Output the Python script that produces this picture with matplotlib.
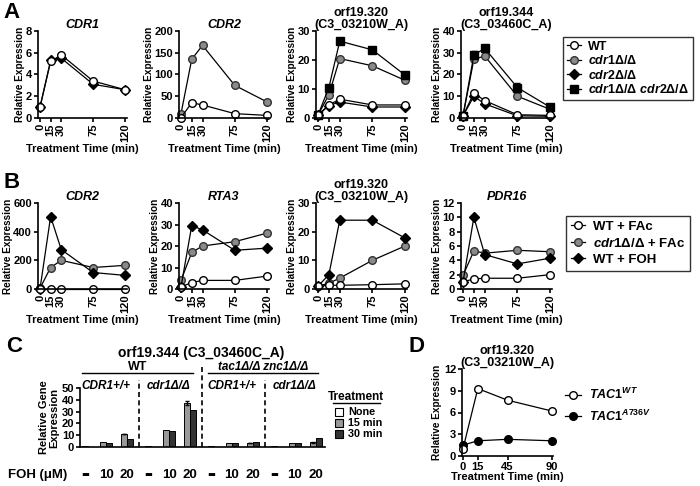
import numpy as np
import matplotlib
matplotlib.use('Agg')
import matplotlib.pyplot as plt
from matplotlib.lines import Line2D
from matplotlib.patches import Rectangle

plt.rcParams['font.family'] = ['Liberation Sans', 'DejaVu Sans']
plt.rcParams['font.weight'] = 'bold'
plt.rcParams['axes.labelweight'] = 'bold'
plt.rcParams['axes.titleweight'] = 'bold'
plt.rcParams['mathtext.fontset'] = 'custom'
plt.rcParams['mathtext.it'] = 'Liberation Sans:italic:bold'
plt.rcParams['mathtext.rm'] = 'Liberation Sans:bold'
plt.rcParams['mathtext.bf'] = 'Liberation Sans:bold'
plt.rcParams['axes.linewidth'] = 1.2

W, H = 700, 486

# ------------------------------------------
# Data
# ------------------------------------------
time_ab = [0, 15, 30, 75, 120]
time_d = [0, 15, 45, 90]

# Panel A
a_cdr1_wt = [1.0, 5.2, 5.8, 3.4, 2.6]
a_cdr1_cdr2 = [1.0, 5.3, 5.5, 3.1, 2.6]
a_cdr2_wt = [1, 35, 30, 10, 6]
a_cdr2_cdr1 = [10, 135, 167, 75, 37]
a_320_wt = [1, 4.5, 6.5, 4.5, 4.5]
a_320_cdr1 = [1, 8, 20.5, 18, 13]
a_320_cdr2 = [1, 4.3, 5.5, 3.8, 3.8]
a_320_dbl = [1, 10.5, 26.5, 23.5, 14.8]
a_344_wt = [1, 11.5, 8, 1.5, 1.2]
a_344_cdr1 = [1, 27, 28.5, 10, 4]
a_344_cdr2 = [1, 10, 6.5, 1, 0.8]
a_344_dbl = [1, 29, 32, 14, 5]
a_344_dbl_err = [0, 2, 1, 2, 0.5]

# Panel B
b_cdr2_wt = [1, 1, 1, 1, 1]
b_cdr2_cdr1 = [5, 150, 200, 150, 165]
b_cdr2_foh = [1, 505, 275, 115, 95]
b_rta3_wt = [1, 3, 4, 4, 6]
b_rta3_cdr1 = [4, 17, 20, 22, 26]
b_rta3_foh = [1, 29.5, 27.5, 18, 19]
b_320_wt = [1, 1.3, 1.3, 1.5, 1.8]
b_320_cdr1 = [1, 2, 3.8, 10, 15]
b_320_foh = [1, 5, 24, 24, 17.8]
b_pdr16_wt = [1, 1.4, 1.5, 1.5, 2]
b_pdr16_cdr1 = [1.9, 5.3, 5.0, 5.4, 5.2]
b_pdr16_foh = [1, 10, 4.8, 3.5, 4.3]

# Panel C (groups: WT CDR1+/+, WT cdr1, tac1 znc1 CDR1+/+, tac1 znc1 cdr1)
c_none = [1.0, 1.2, 0.8, 0.9]
c_10_15 = [4.5, 14.5, 3.0, 3.5]
c_10_30 = [3.5, 13.3, 3.0, 3.8]
c_20_15 = [11.0, 37.5, 3.5, 4.0]
c_20_30 = [7.0, 31.5, 4.0, 8.0]
c_20_15_err = [0.3, 1.5, 0.3, 0.3]
c_foh_labels = ['▬', '10', '20']
c_sub_labels = ['CDR1+/+', 'cdr1Δ/Δ', 'CDR1+/+', 'cdr1Δ/Δ']

# Panel D
d_wt = [1.0, 9.3, 7.7, 6.2]
d_mut = [1.5, 2.1, 2.3, 2.1]

GRAY = '#8a8a8a'
st_wt = dict(marker='o', mfc='white', mec='black', color='black')
st_cdr1 = dict(marker='o', mfc=GRAY, mec='#333333', color='black')
st_cdr2 = dict(marker='D', mfc='black', mec='black', color='black', ms=5)
st_dbl = dict(marker='s', mfc='black', mec='black', color='black')

TICK_FS = 8
LAB_FS = 7.2
XLAB_FS = 8
TITLE_FS = 9

fig = plt.figure(figsize=(7, 4.86), dpi=100)


def add_ax(x0, y0, x1, y1):
    return fig.add_axes([x0 / W, 1 - y1 / H, (x1 - x0) / W, (y1 - y0) / H])


def style_ax(ax):
    ax.spines['top'].set_visible(False)
    ax.spines['right'].set_visible(False)
    ax.tick_params(length=3, width=1.2, labelsize=TICK_FS, pad=1.2)


def line_kw(st):
    kw = {k: v for k, v in st.items() if k != 'ms'}
    kw['ms'] = st.get('ms', 5.5)
    return kw


def time_panel(pos0, pos120, ytop, ybot, title, yticks, series, italic=True):
    s = (pos120 - pos0) / 120
    ax = add_ax(pos0 - 3 * s, ytop, pos120 + 3 * s, ybot)
    ax.set_xlim(-3, 123)
    ax.set_ylim(0, yticks[-1])
    for vals, st in series:
        ax.plot(time_ab, vals, lw=0.9, clip_on=False, **line_kw(st))
    ax.set_xticks(time_ab)
    ax.set_xticklabels([str(t) for t in time_ab], rotation=90)
    ax.set_yticks(yticks)
    style_ax(ax)
    ax.set_xlabel('Treatment Time (min)', fontsize=XLAB_FS, labelpad=1)
    ax.set_ylabel('Relative Expression', fontsize=LAB_FS, labelpad=0.5)
    ax.set_title(title, fontsize=TITLE_FS, pad=1.5, style='italic' if italic else 'normal',
                 linespacing=1.0)
    return ax


# ------------------------------------------
# Panel A
# ------------------------------------------
xs = [(40, 125), (181, 267), (318, 405), (463, 550)]
time_panel(*xs[0], 31, 118, 'CDR1', [0, 2, 4, 6, 8],
           [(a_cdr1_cdr2, st_cdr2), (a_cdr1_wt, st_wt)])
time_panel(*xs[1], 31, 118, 'CDR2', [0, 50, 100, 150, 200],
           [(a_cdr2_cdr1, st_cdr1), (a_cdr2_wt, st_wt)])
time_panel(*xs[2], 31, 118, 'orf19.320\n(C3_03210W_A)', [0, 10, 20, 30],
           [(a_320_cdr1, st_cdr1), (a_320_dbl, st_dbl), (a_320_cdr2, st_cdr2),
            (a_320_wt, st_wt)], italic=False)
ax344 = time_panel(*xs[3], 31, 118, 'orf19.344\n(C3_03460C_A)', [0, 10, 20, 30, 40],
                   [(a_344_cdr1, st_cdr1), (a_344_dbl, st_dbl), (a_344_cdr2, st_cdr2),
                    (a_344_wt, st_wt)], italic=False)
ax344.errorbar(time_ab, a_344_dbl, yerr=a_344_dbl_err, fmt='none', ecolor='black',
               elinewidth=0.9, capsize=2.5, zorder=1)

handles_a = [Line2D([], [], lw=0.9, **line_kw(st_wt)),
             Line2D([], [], lw=0.9, **line_kw(st_cdr1)),
             Line2D([], [], lw=0.9, **line_kw(st_cdr2)),
             Line2D([], [], lw=0.9, **line_kw(st_dbl))]
labels_a = ['WT', r'$\mathit{cdr1Δ/Δ}$', r'$\mathit{cdr2Δ/Δ}$',
            r'$\mathit{cdr1Δ/Δ\ cdr2Δ/Δ}$']
leg = fig.legend(handles_a, labels_a, loc='upper left',
                 bbox_to_anchor=(563 / W, 1 - 37 / H), fontsize=9,
                 frameon=True, fancybox=False, edgecolor='black',
                 handlelength=1.1, handletextpad=0.6, borderpad=0.3,
                 labelspacing=0.12, borderaxespad=0)
leg.get_frame().set_linewidth(1.0)

# ------------------------------------------
# Panel B
# ------------------------------------------
st_foh = st_cdr2
time_panel(*xs[0], 203, 289, 'CDR2', [0, 200, 400, 600],
           [(b_cdr2_cdr1, st_cdr1), (b_cdr2_foh, st_foh), (b_cdr2_wt, st_wt)])
time_panel(*xs[1], 203, 289, 'RTA3', [0, 10, 20, 30, 40],
           [(b_rta3_cdr1, st_cdr1), (b_rta3_foh, st_foh), (b_rta3_wt, st_wt)])
time_panel(*xs[2], 203, 289, 'orf19.320\n(C3_03210W_A)', [0, 10, 20, 30],
           [(b_320_cdr1, st_cdr1), (b_320_foh, st_foh), (b_320_wt, st_wt)],
           italic=False)
time_panel(*xs[3], 203, 289, 'PDR16', list(range(0, 13, 2)),
           [(b_pdr16_cdr1, st_cdr1), (b_pdr16_foh, st_foh), (b_pdr16_wt, st_wt)])

handles_b = [Line2D([], [], lw=0.9, **line_kw(st_wt)),
             Line2D([], [], lw=0.9, **line_kw(st_cdr1)),
             Line2D([], [], lw=0.9, **line_kw(st_foh))]
labels_b = ['WT + FAc', r'$\mathit{cdr1Δ/Δ}$ + FAc', 'WT + FOH']
leg = fig.legend(handles_b, labels_b, loc='upper left',
                 bbox_to_anchor=(566 / W, 1 - 216 / H), fontsize=9.5,
                 frameon=True, fancybox=False, edgecolor='black',
                 handlelength=1.1, handletextpad=0.6, borderpad=0.35,
                 labelspacing=0.3, borderaxespad=0)
leg.get_frame().set_linewidth(1.0)

# ------------------------------------------
# Panel C
# ------------------------------------------
axc = add_ax(80, 388, 325, 447)
axc.set_xlim(-0.24, 11.43)
axc.set_ylim(0, 50)
bw = 0.29
base = np.arange(4) * 3
bar_kw = dict(edgecolor='black', linewidth=0.7)
axc.bar(base, c_none, bw, color='white', **bar_kw)
axc.bar(base + 1 - 0.15, c_10_15, bw, color='#999999', **bar_kw)
axc.bar(base + 1 + 0.15, c_10_30, bw, color='#333333', **bar_kw)
axc.bar(base + 2 - 0.15, c_20_15, bw, color='#999999', yerr=c_20_15_err,
        error_kw=dict(elinewidth=0.8, capsize=1.5), **bar_kw)
axc.bar(base + 2 + 0.15, c_20_30, bw, color='#333333', **bar_kw)
style_ax(axc)
axc.set_xticks([])
axc.set_yticks([0, 10, 20, 30, 40, 50])
axc.set_ylabel('Relative Gene\nExpression', fontsize=8, labelpad=2, linespacing=1.0)

tr = axc.get_xaxis_transform()
for g in range(3):
    top = 1.39 if g == 1 else 1.14
    axc.plot([base[g] + 2.55] * 2, [0, top], transform=tr, color='black', lw=1.2,
             ls=(0, (3, 2)), clip_on=False)
for g in range(4):
    axc.text(base[g] + 1, 1.03, c_sub_labels[g], transform=tr, ha='center',
             va='center', fontsize=8.5, style='italic')
    for k in range(3):
        if k == 0:
            axc.text(base[g] + k, -0.47, c_foh_labels[k], transform=tr, ha='center',
                     va='center', fontsize=6, family=['DejaVu Sans'])
        else:
            axc.text(base[g] + k, -0.47, c_foh_labels[k], transform=tr, ha='center',
                     va='center', fontsize=9.5)
axc.plot([-0.15, 5.15], [1.25, 1.25], transform=tr, color='black', lw=1.0, clip_on=False)
axc.plot([5.85, 11.1], [1.25, 1.25], transform=tr, color='black', lw=1.0, clip_on=False)
axc.text(2.5, 1.36, 'WT', transform=tr, ha='center', va='center', fontsize=9)
axc.text(8.5, 1.36, 'tac1Δ/Δ znc1Δ/Δ', transform=tr, ha='center', va='center',
         fontsize=8.5, style='italic')
axc.text(5.55, 1.6, 'orf19.344 (C3_03460C_A)', transform=tr, ha='center',
         va='center', fontsize=10)
fig.text(38 / W, 1 - 475 / H, 'FOH (μM)', ha='center', va='center', fontsize=9.5)

# Treatment legend
fig.text(356 / W, 1 - 397 / H, 'Treatment', ha='center', va='center', fontsize=8.5)
fig.add_artist(Line2D([333 / W, 380 / W], [1 - 403 / H, 1 - 403 / H], color='black', lw=1.0))
for y, col, lab in [(412, 'white', 'None'), (423, '#999999', '15 min'),
                    (434, '#333333', '30 min')]:
    fig.add_artist(Rectangle((335 / W, 1 - (y + 4) / H), 8 / W, 8 / H,
                             facecolor=col, edgecolor='black', lw=0.8,
                             transform=fig.transFigure))
    fig.text(348 / W, 1 - y / H, lab, ha='left', va='center', fontsize=7.8)

# ------------------------------------------
# Panel D
# ------------------------------------------
axd = add_ax(462, 369, 553, 456)
axd.set_xlim(-1, 91)
axd.set_ylim(0, 12)
axd.plot(time_d, d_mut, lw=0.9, ms=5.5, marker='o', mfc='black', mec='black',
         color='black', clip_on=False)
axd.plot(time_d, d_wt, lw=0.9, clip_on=False, **line_kw(st_wt))
style_ax(axd)
axd.tick_params(axis='x', pad=1)
axd.set_xticks(time_d)
axd.set_yticks([0, 3, 6, 9, 12])
axd.set_xlabel('Treatment Time (min)', fontsize=XLAB_FS, labelpad=0.5)
axd.set_ylabel('Relative Expression', fontsize=LAB_FS, labelpad=1)
axd.set_title('orf19.320\n(C3_03210W_A)', fontsize=TITLE_FS, pad=2, linespacing=1.0)
handles_d = [Line2D([], [], lw=0.9, **line_kw(st_wt)),
             Line2D([], [], lw=0.9, ms=5.5, marker='o', mfc='black', mec='black',
                    color='black')]
labels_d = [r'$\mathit{TAC1}^{\mathit{WT}}$', r'$\mathit{TAC1}^{\mathit{A736V}}$']
fig.legend(handles_d, labels_d, loc='upper left', bbox_to_anchor=(560 / W, 1 - 382 / H),
           fontsize=9, frameon=False, handlelength=1.3, handletextpad=0.6,
           labelspacing=0.5, borderaxespad=0)

# Panel letters
for lab, x, y in [('A', 12, 13), ('B', 12, 183), ('C', 14, 346), ('D', 416, 346)]:
    fig.text(x / W, 1 - y / H, lab, ha='center', va='center', fontsize=16)

fig.savefig('out.png', dpi=100)
